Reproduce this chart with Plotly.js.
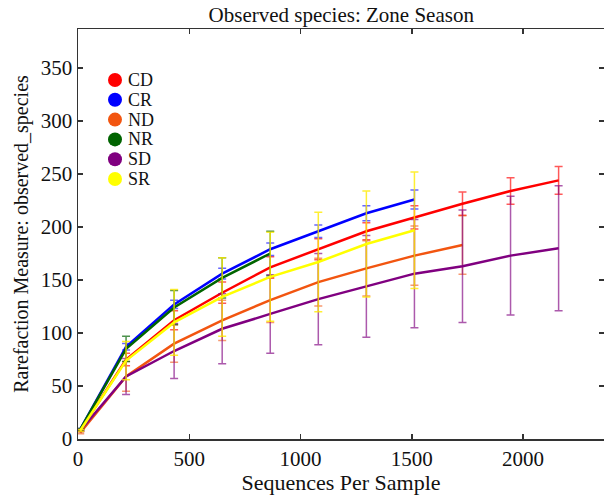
<!DOCTYPE html>
<html>
<head>
<meta charset="utf-8">
<script src="https://cdn.plot.ly/plotly-3.0.1.min.js"></script>
<style>html,body{margin:0;padding:0;background:#fff;}#chart{width:604px;height:495px;}</style>
</head>
<body>
<div id="chart"></div>
<script>
const seqDepth = [10, 216, 432, 648, 864, 1080, 1296, 1512, 1728, 1944, 2160];
const groupNames = ["CD", "CR", "ND", "NR", "SD", "SR"];
const groupColors = ["#FF0000", "#0000FF", "#F25510", "#006400", "#800080", "#FFFF00"];
const errColors = ["rgba(255,0,0,0.65)", "rgba(0,0,255,0.6)", "rgba(242,85,16,0.6)", "rgba(0,100,0,0.7)", "rgba(128,0,128,0.65)", "rgba(255,235,0,0.8)"];

const meanCD = [8, 75, 112, 138, 162, 179, 196, 209, 222, 234, 244];
const sdCD   = [1, 6, 9, 10, 10, 10, 8, 11, 11, 12.5, 13];
const meanCR = [9, 87, 127, 156, 179, 196, 213, 226];
const sdCR   = [1, 3, 4, 5, 6, 6, 7, 9];
const meanND = [6, 59, 90, 112, 131, 148, 161, 173, 183];
const sdND   = [1, 14, 17.5, 19, 21, 22.5, 26, 28, 27.5];
const meanNR = [9, 85, 124, 152, 175];
const sdNR   = [1, 12, 16, 19, 21];
const meanSD = [8, 59, 83, 104, 118, 132, 144, 156, 163, 173, 180];
const sdSD   = [1, 17, 26, 33, 37, 43, 48, 51, 53, 56, 59];
const meanSR = [8, 74, 110, 134, 153, 167, 184, 197];
const sdSR   = [1, 18, 31, 37, 42, 47, 50, 55];

const means = [meanCD, meanCR, meanND, meanNR, meanSD, meanSR];
const sds = [sdCD, sdCR, sdND, sdNR, sdSD, sdSR];

const traces = [];
for (let i = 0; i < groupNames.length; i++) {
  const m = means[i];
  traces.push({
    type: "scatter", mode: "lines",
    x: seqDepth.slice(0, m.length), y: m,
    name: groupNames[i], showlegend: false,
    line: {color: groupColors[i], width: 2.5},
    error_y: {type: "data", array: sds[i], visible: true, color: errColors[i], thickness: 1.5, width: 4}
  });
}

// custom legend (circles + labels) in paper coordinates
const fontFam = "Liberation Serif, Times New Roman, serif";
const plotL = 78, plotT = 29, plotW = 526, plotH = 410;
const legCx = (115 - plotL) / plotW;
const legTx = (127 - plotL) / plotW;
const shapes = [], annotations = [];
for (let i = 0; i < groupNames.length; i++) {
  const py = 80 + i * 19.8;
  const yp = (plotT + plotH - py) / plotH;
  shapes.push({
    type: "circle", xref: "paper", yref: "paper",
    xsizemode: "pixel", ysizemode: "pixel",
    xanchor: legCx, yanchor: yp, x0: -7, x1: 7, y0: -7, y1: 7,
    fillcolor: groupColors[i], line: {width: 0}
  });
  annotations.push({
    xref: "paper", yref: "paper", x: legTx, y: yp,
    xanchor: "left", yanchor: "middle", showarrow: false,
    borderpad: 0,
    text: groupNames[i], font: {family: fontFam, size: 18, color: "#111"}
  });
}

const layout = {
  width: 604, height: 495,
  margin: {l: 78, r: 0, t: 29, b: 56},
  paper_bgcolor: "#fff", plot_bgcolor: "#fff",
  font: {family: fontFam, color: "#111", size: 21},
  title: {text: "Observed species: Zone Season", font: {family: fontFam, size: 21, color: "#111"}, x: 0.565, xanchor: "center", y: 0.97, yanchor: "middle"},
  xaxis: {
    range: [0, 2364], tickvals: [0, 500, 1000, 1500, 2000],
    showgrid: false, zeroline: false, showline: true, mirror: "ticks",
    linecolor: "#333", linewidth: 1.5, ticks: "inside", ticklen: 5, tickcolor: "#333", tickwidth: 1.5,
    tickfont: {family: fontFam, size: 21, color: "#111"},
    title: {text: "Sequences Per Sample", font: {family: fontFam, size: 22, color: "#111"}, standoff: 2}
  },
  yaxis: {
    range: [0, 386.8], tickvals: [0, 50, 100, 150, 200, 250, 300, 350],
    showgrid: false, zeroline: false, showline: true, mirror: "ticks",
    linecolor: "#333", linewidth: 1.5, ticks: "inside", ticklen: 5, tickcolor: "#333", tickwidth: 1.5,
    tickfont: {family: fontFam, size: 21, color: "#111"},
    title: {text: "Rarefaction Measure: observed_species", font: {family: fontFam, size: 20, color: "#111"}, standoff: 7}
  },
  shapes: shapes,
  annotations: annotations,
  showlegend: false
};

Plotly.newPlot("chart", traces, layout, {displayModeBar: false, staticPlot: true});
</script>
</body>
</html>
